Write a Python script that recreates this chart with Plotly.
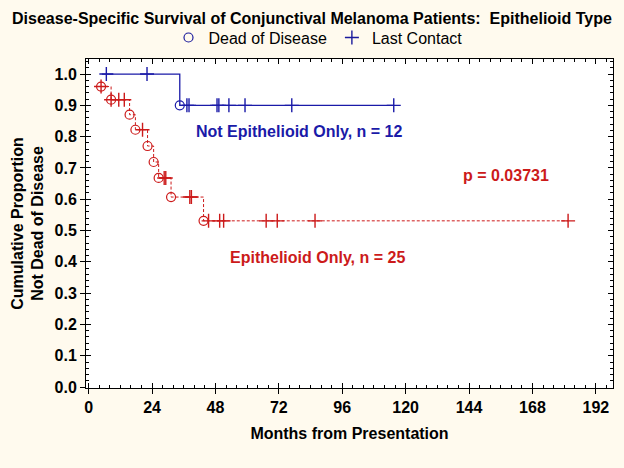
import plotly.graph_objects as go

# ---- data ----
# Epithelioid Only (n = 25)
epi_step_t = [4.7, 8.5, 15.5, 17.7, 22.3, 24.6, 26.5, 31.2, 43.5]
epi_step_s = [0.960, 0.918, 0.870, 0.822, 0.770, 0.719, 0.668, 0.607, 0.531]
epi_cens_t = [4.7, 8.5, 11.4, 13.5, 20.4, 28.6, 29.2, 38.3, 38.9,
              45.4, 49.6, 51.1, 67.2, 71.4, 85.7, 181.5]
epi_end_t = 181.5

# Not Epithelioid Only (n = 12)
non_start_t = 5.0
non_start_s = 1.0
non_step_t = [34.5]
non_step_s = [0.90]
non_cens_t = [6.7, 22.1, 37.2, 38.0, 48.6, 49.3, 53.1, 59.2, 76.9, 115.5]
non_end_t = 115.5

x_ticks = [0, 24, 48, 72, 96, 120, 144, 168, 192]
y_ticks = [0.0, 0.1, 0.2, 0.3, 0.4, 0.5, 0.6, 0.7, 0.8, 0.9, 1.0]

RED = "#cc1a1a"
BLUE = "#1a1aa8"
NAVY = "#1a1a9c"
FONT = "Arial, Liberation Sans, sans-serif"
FS = 16


def surv_at(t, st, ss, s0):
    s = s0
    for ti, si in zip(st, ss):
        if ti <= t:
            s = si
    return s


fig = go.Figure()

# Epithelioid curve
ex = list(epi_step_t) + [epi_end_t]
ey = list(epi_step_s) + [epi_step_s[-1]]
fig.add_trace(go.Scatter(x=ex, y=ey, mode="lines", line=dict(color=RED, width=1, dash="3px,2px", shape="hv"),
                         showlegend=False, hoverinfo="skip"))
fig.add_trace(go.Scatter(x=epi_step_t, y=epi_step_s, mode="markers",
                         marker=dict(symbol="circle-open", size=9, color=RED, line=dict(width=1.2, color=RED)),
                         showlegend=False))
fig.add_trace(go.Scatter(x=epi_cens_t, y=[surv_at(t, epi_step_t, epi_step_s, 1.0) for t in epi_cens_t],
                         mode="markers",
                         marker=dict(symbol="cross-thin-open", size=10, color=RED, line=dict(width=1.4, color=RED)),
                         showlegend=False))

# Not epithelioid curve
nx = [non_start_t] + list(non_step_t) + [non_end_t]
ny = [non_start_s] + list(non_step_s) + [non_step_s[-1]]
fig.add_trace(go.Scatter(x=nx, y=ny, mode="lines", line=dict(color=BLUE, width=1.3, shape="hv"),
                         showlegend=False, hoverinfo="skip"))
fig.add_trace(go.Scatter(x=non_step_t, y=non_step_s, mode="markers",
                         marker=dict(symbol="circle-open", size=9, color=BLUE, line=dict(width=1.2, color=BLUE)),
                         showlegend=False))
fig.add_trace(go.Scatter(x=non_cens_t, y=[surv_at(t, non_step_t, non_step_s, non_start_s) for t in non_cens_t],
                         mode="markers",
                         marker=dict(symbol="cross-thin-open", size=10, color=BLUE, line=dict(width=1.4, color=BLUE)),
                         showlegend=False))

# legend entries
fig.add_trace(go.Scatter(x=[None], y=[None], mode="markers", name="Dead of Disease",
                         marker=dict(symbol="circle-open", size=9, color=NAVY, line=dict(width=1.2, color=NAVY))))
fig.add_trace(go.Scatter(x=[None], y=[None], mode="markers", name="Last Contact",
                         marker=dict(symbol="cross-thin-open", size=10, color=NAVY, line=dict(width=1.4, color=NAVY))))

xr = [-1.0, 198.5]
yr = [-0.003, 1.048]

fig.update_layout(
    width=624, height=468,
    paper_bgcolor="#fffaee",
    plot_bgcolor="#ffffff",
    margin=dict(l=86, r=11, t=59, b=80, autoexpand=False),
    font=dict(family=FONT, color="#000000"),
    title=dict(text="<b>Disease-Specific Survival of Conjunctival Melanoma Patients:  Epithelioid Type</b>",
               x=0.5, xanchor="center", xref="container", y=450 / 468, yanchor="middle",
               font=dict(size=FS, family=FONT)),
    legend=dict(orientation="h", x=318 / 624, xref="container", xanchor="center", y=1.065, yanchor="middle",
                font=dict(size=FS, family=FONT), bgcolor="rgba(0,0,0,0)"),
    xaxis=dict(range=xr, tickvals=x_ticks, ticktext=["<b>%d</b>" % v for v in x_ticks], ticks="outside", ticklen=5,
               tickcolor="#000", tickwidth=1, showgrid=False, zeroline=False, showline=True, linecolor="#000",
               linewidth=1, mirror=True, tickfont=dict(size=FS, family=FONT),
               title=dict(text="<b>Months from Presentation</b>", font=dict(size=FS, family=FONT), standoff=12)),
    yaxis=dict(range=yr, tickvals=y_ticks, ticktext=["<b>%.1f</b>" % v for v in y_ticks], ticks="outside", ticklen=5,
               tickcolor="#000", tickwidth=1, showgrid=False, zeroline=False, showline=True, linecolor="#000",
               linewidth=1, mirror=True, tickfont=dict(size=FS, family=FONT),
               title=dict(text="<b>Cumulative Proportion<br>Not Dead of Disease</b>", font=dict(size=FS, family=FONT),
                          standoff=6)),
    xaxis2=dict(range=xr, overlaying="x", tickvals=x_ticks, ticks="inside", ticklen=5, tickcolor="#000",
                showticklabels=False, showgrid=False, zeroline=False, showline=False, mirror="allticks",
                minor=dict(dtick=4, tick0=0, ticks="inside", ticklen=3, tickcolor="#000", showgrid=False)),
    yaxis2=dict(range=yr, overlaying="y", tickvals=y_ticks, ticks="inside", ticklen=5, tickcolor="#000",
                showticklabels=False, showgrid=False, zeroline=False, showline=False, mirror="allticks",
                minor=dict(dtick=0.02, tick0=0, ticks="inside", ticklen=3, tickcolor="#000", showgrid=False)),
    annotations=[
        dict(text="<b>Not Epithelioid Only, n = 12</b>", x=79.5, y=0.815, xref="x", yref="y", showarrow=False,
             font=dict(size=FS, color=BLUE, family=FONT)),
        dict(text="<b>p = 0.03731</b>", x=158, y=0.675, xref="x", yref="y", showarrow=False,
             font=dict(size=FS, color=RED, family=FONT)),
        dict(text="<b>Epithelioid Only, n = 25</b>", x=86.5, y=0.415, xref="x", yref="y", showarrow=False,
             font=dict(size=FS, color=RED, family=FONT)),
    ],
)

# dummy trace to activate overlay axes
fig.add_trace(go.Scatter(x=[None], y=[None], xaxis="x2", yaxis="y2", showlegend=False, hoverinfo="skip"))

fig.write_html("out.html",
               config={"displayModeBar": False},
               post_script="document.body.style.margin='0';document.body.style.padding='0';"
                           "document.body.style.background='#fffaee';")
